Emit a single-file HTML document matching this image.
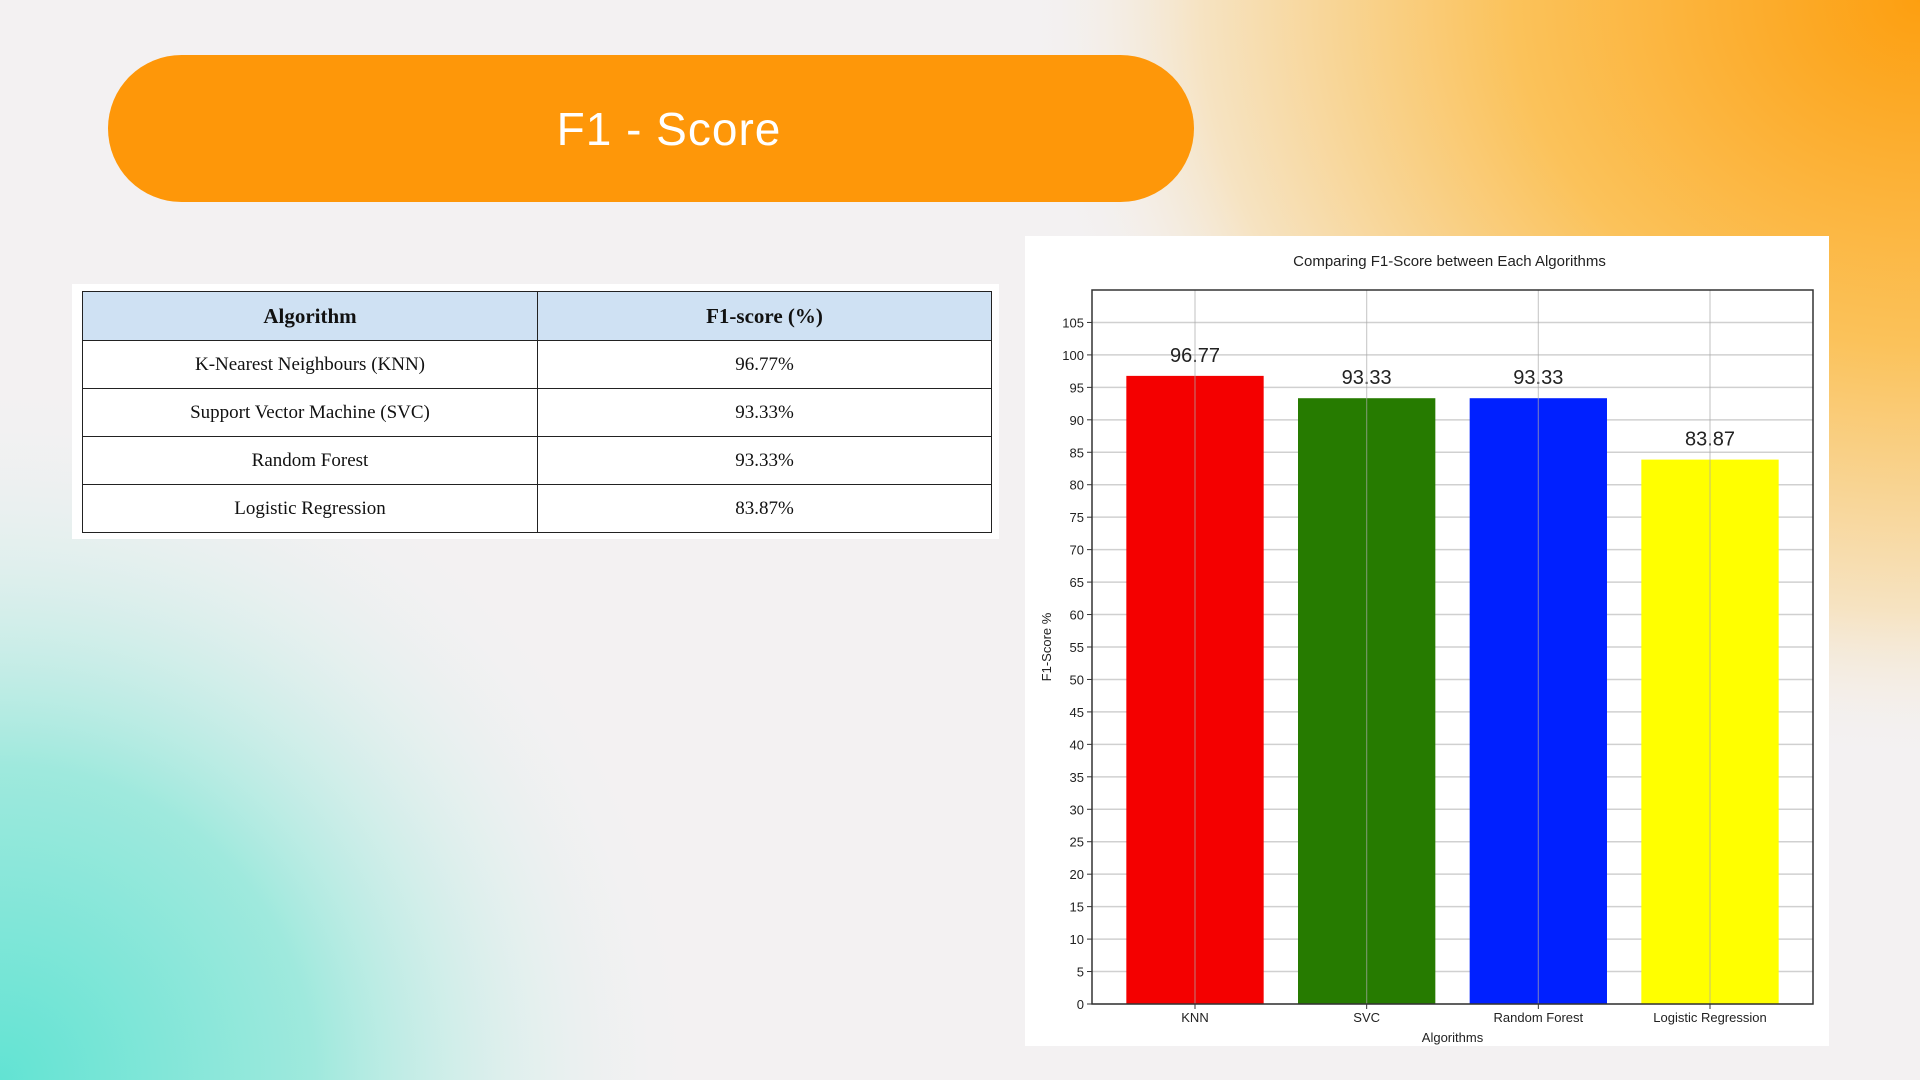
<!DOCTYPE html>
<html><head><meta charset="utf-8"><style>
html,body{margin:0;padding:0}
body{width:1920px;height:1080px;position:relative;overflow:hidden;background:#f3f1f2;font-family:"Liberation Sans",sans-serif}
.bg{position:absolute;inset:0}
.pill{position:absolute;left:108px;top:55px;width:1086px;height:147px;border-radius:74px;background:#fe9709;color:#fff;display:flex;align-items:center;justify-content:center;font-size:46px;letter-spacing:1px}
.pill span{position:relative;left:18px}
.tblwrap{position:absolute;left:72px;top:284px;width:927px;height:255px;background:#fff}
table{position:absolute;left:10px;top:7px;width:910px;border-collapse:collapse;font-family:"Liberation Serif",serif;font-size:19px;color:#111}
td,th{border:1.5px solid #222;text-align:center;height:47px;padding:0}
th{background:#cfe1f3;font-size:21px;height:48px}
.chart{position:absolute;left:1025px;top:236px;width:804px;height:810px;background:#fff}
</style></head><body>
<svg class="bg" width="1920" height="1080">
<defs>
<radialGradient id="og" cx="1920" cy="0" r="900" gradientUnits="userSpaceOnUse" gradientTransform="translate(1920 0) scale(1 0.85) translate(-1920 0)">
<stop offset="0" stop-color="#fd9f10"/><stop offset="0.45" stop-color="#fbc25a"/><stop offset="0.8" stop-color="#f6e3c2"/><stop offset="1" stop-color="#f3f1f2" stop-opacity="0"/></radialGradient>
<radialGradient id="tg" cx="0" cy="1080" r="700" gradientUnits="userSpaceOnUse">
<stop offset="0" stop-color="#62e3d3"/><stop offset="0.45" stop-color="#9fe9dd"/><stop offset="1" stop-color="#f3f1f2" stop-opacity="0"/></radialGradient>
</defs>
<rect width="1920" height="1080" fill="#f3f1f2"/>
<rect width="1920" height="1080" fill="url(#og)"/>
<rect width="1920" height="1080" fill="url(#tg)"/>
</svg>
<div class="pill"><span>F1 - Score</span></div>
<div class="tblwrap">
<table>
<tr><th style="width:454px">Algorithm</th><th>F1-score (%)</th></tr>
<tr><td>K-Nearest Neighbours (KNN)</td><td>96.77%</td></tr>
<tr><td>Support Vector Machine (SVC)</td><td>93.33%</td></tr>
<tr><td>Random Forest</td><td>93.33%</td></tr>
<tr><td>Logistic Regression</td><td>83.87%</td></tr>
</table></div>
<div class="chart">
<svg id="c" width="804" height="810"></svg>
</div>
<script>
const categories=["KNN","SVC","Random Forest","Logistic Regression"];
const values=[96.77,93.33,93.33,83.87];
const labels=["96.77","93.33","93.33","83.87"];
const colors=["#f40000","#267b00","#0020ff","#ffff00"];
const yTicks=[0,5,10,15,20,25,30,35,40,45,50,55,60,65,70,75,80,85,90,95,100,105];
const svg=document.getElementById('c');
const NS="http://www.w3.org/2000/svg";
const L=67,R=788,T=54,B=768,ymax=110;
const y=v=>B-(v/ymax)*(B-T);
const step=(R-L)/4.2;
const x=i=>L+(i+0.6)*step;
function mk(t,a,txt){const e=document.createElementNS(NS,t);for(const k in a)e.setAttribute(k,a[k]);if(txt!==undefined)e.textContent=txt;svg.appendChild(e);return e;}
const F='font-family:"Liberation Sans",sans-serif;fill:#222';
let e=mk('text',{x:(L+R)/2-3,y:30,'text-anchor':'middle',style:F+';font-size:15px'},'Comparing F1-Score between Each Algorithms');

yTicks.forEach(v=>{
 e=mk('line',{x1:L,x2:R,y1:y(v),y2:y(v),stroke:'#d0d0d0','stroke-width':1.5});
 
 e=mk('line',{x1:L-5,x2:L,y1:y(v),y2:y(v),stroke:'#333'});
 
 e=mk('text',{x:L-8,y:y(v)+5,'text-anchor':'end',style:F+';font-size:13px'},String(v));
 
});
categories.forEach((c,i)=>{
 const bw=step*0.8,h=B-y(values[i]);
 e=mk('rect',{x:x(i)-bw/2,y:y(values[i]),width:bw,height:h,fill:colors[i]});
 
 e=mk('text',{x:x(i),y:y(values[i])-14,'text-anchor':'middle',style:F+';font-size:20px'},labels[i]);
 
 e=mk('text',{x:x(i),y:786,'text-anchor':'middle',style:F+';font-size:13px'},c);
 
});
categories.forEach((c,i)=>{
 e=mk('line',{x1:x(i),x2:x(i),y1:T,y2:B,stroke:'#aaa','stroke-opacity':0.6,'stroke-width':1.2});
 
 e=mk('line',{x1:x(i),x2:x(i),y1:B,y2:B+5,stroke:'#333'});
 
});
e=mk('rect',{x:L,y:T,width:R-L,height:B-T,fill:'none',stroke:'#333','stroke-width':1.5});

e=mk('text',{x:(L+R)/2,y:806,'text-anchor':'middle',style:F+';font-size:13px'},'Algorithms');

e=mk('text',{x:0,y:0,'text-anchor':'middle',transform:'translate(26 411) rotate(-90)',style:F+';font-size:13px'},'F1-Score %');

</script>
</body></html>
